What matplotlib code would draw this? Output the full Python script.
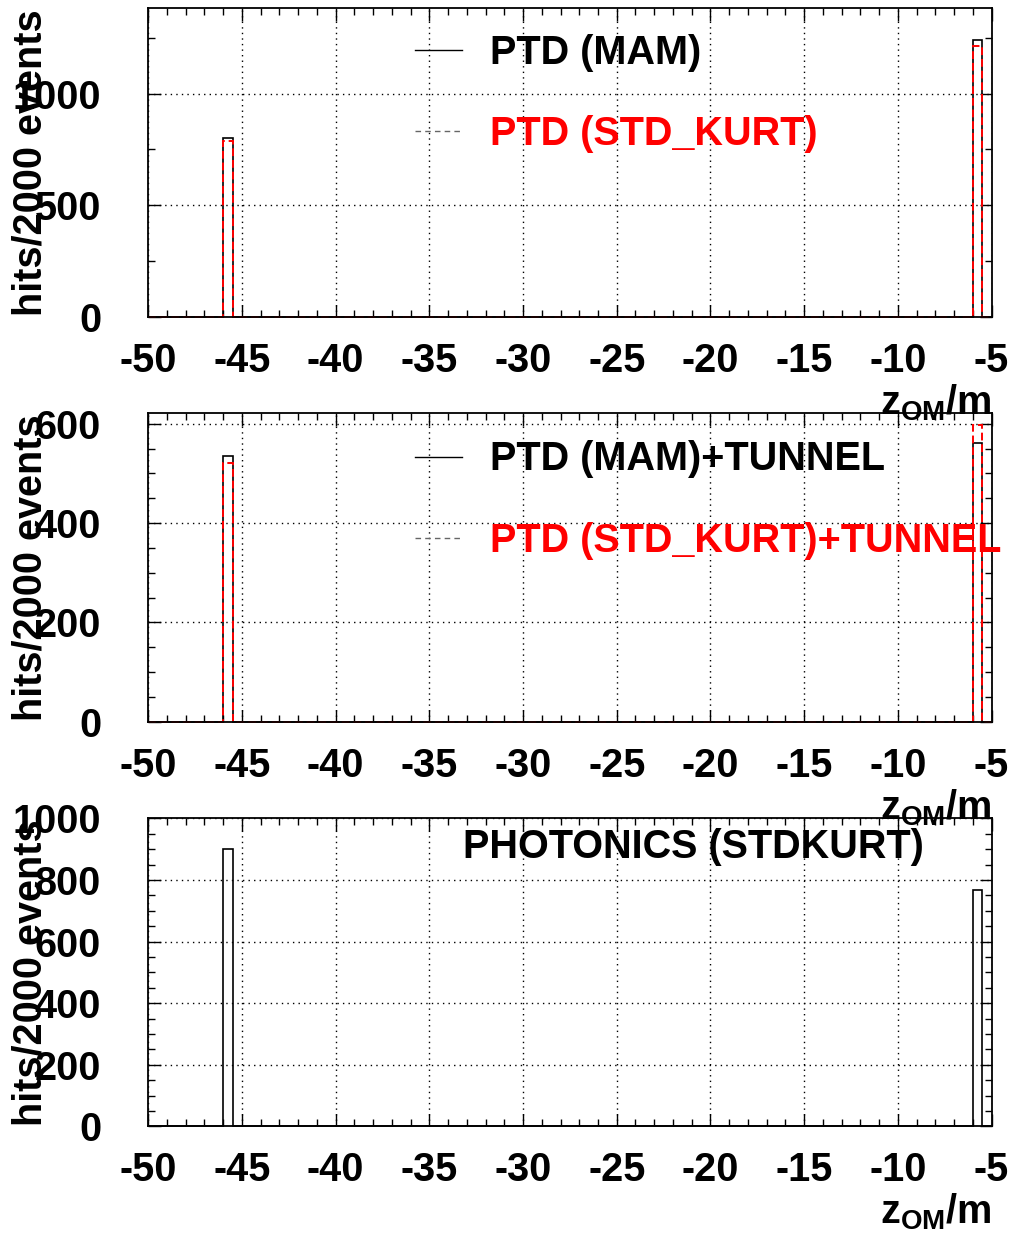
import numpy as np
import matplotlib
matplotlib.use('Agg')
import matplotlib.pyplot as plt
from matplotlib.lines import Line2D
from matplotlib.ticker import MultipleLocator

# binning of the z_OM histograms (0.5 m bins)
bin_lo, bin_hi, bin_w = -50.0, -5.0, 0.5

# bin centres that carry hits, and the hits per bin
z_hit = [-45.75, -5.75]
mam = [800, 1241]
std_kurt = [789, 1215]
mam_tunnel = [536, 561]
std_kurt_tunnel = [522, 598]
photonics = [900, 769]

plt.rcParams['font.family'] = ['Liberation Sans', 'DejaVu Sans']
plt.rcParams['font.weight'] = 'bold'
plt.rcParams['axes.unicode_minus'] = False
plt.rcParams['mathtext.fontset'] = 'custom'
plt.rcParams['mathtext.rm'] = 'Liberation Sans:bold'
plt.rcParams['mathtext.it'] = 'Liberation Sans:bold'
plt.rcParams['mathtext.bf'] = 'Liberation Sans:bold'

FS = 28.5
edges = np.arange(bin_lo, bin_hi + bin_w / 2, bin_w)

fig = plt.figure(figsize=(10.10, 12.36), dpi=100)
left, width = 0.1468, 0.8349
ax1 = fig.add_axes([left, 0.7438, width, 0.2495])
ax2 = fig.add_axes([left, 0.4160, width, 0.2496])
ax3 = fig.add_axes([left, 0.0886, width, 0.2492])

def style(ax, ymax, ymajor, yminor):
    ax.set_facecolor('none')
    ax.set_xlim(bin_lo, bin_hi)
    ax.set_ylim(0, ymax)
    ax.xaxis.set_major_locator(MultipleLocator(5))
    ax.xaxis.set_minor_locator(MultipleLocator(1))
    ax.yaxis.set_major_locator(MultipleLocator(ymajor))
    ax.yaxis.set_minor_locator(MultipleLocator(yminor))
    ax.tick_params(which='both', direction='in', top=True, right=True, width=1)
    ax.tick_params(which='major', length=9)
    ax.tick_params(which='minor', length=5)
    ax.tick_params(axis='x', which='major', labelsize=FS, pad=18)
    ax.tick_params(axis='y', which='major', labelsize=FS, pad=34)
    ax.grid(True, which='major', color='black', linestyle=(0, (1, 3)), linewidth=1)
    for s in ax.spines.values():
        s.set_linewidth(1.3)
    ax.set_ylabel('hits/2000 events', fontsize=FS, fontweight='bold')
    ax.yaxis.set_label_coords(-0.1166, 0.5)
    ax.text(1.0, -0.3155, r'$\mathrm{z_{OM}/m}$', transform=ax.transAxes,
            ha='right', va='baseline', fontsize=FS, clip_on=False, zorder=10)

def draw(ax, values, color, ls, lw):
    ax.hist(z_hit, bins=edges, weights=values, histtype='step',
            color=color, linestyle=ls, linewidth=lw, clip_on=False)

dash = (0, (4, 2))
leg_handles = [Line2D([], [], color='black', lw=1),
               Line2D([], [], color='0.4', lw=1, linestyle=(0, (4, 3)))]

def legend(ax, labels, y):
    leg = ax.legend(leg_handles, labels, loc='upper left', bbox_to_anchor=(0.3163, y),
                    frameon=False, fontsize=FS, handlelength=1.2, handletextpad=0.7,
                    labelspacing=1.1, borderpad=0, borderaxespad=0)
    leg.get_texts()[1].set_color('red')

# top: PTD
draw(ax1, mam, 'black', '-', 1.2)
draw(ax1, std_kurt, 'red', dash, 1.4)
style(ax1, 1383, 500, 250)
legend(ax1, ['PTD (MAM)', 'PTD (STD_KURT)'], 0.918)

# middle: PTD + tunnel
draw(ax2, mam_tunnel, 'black', '-', 1.2)
draw(ax2, std_kurt_tunnel, 'red', dash, 1.4)
style(ax2, 621, 200, 50)
legend(ax2, ['PTD (MAM)+TUNNEL', 'PTD (STD_KURT)+TUNNEL'], 0.912)

# bottom: photonics
draw(ax3, photonics, 'black', '-', 1.2)
style(ax3, 1000, 200, 50)
ax3.text(0.3732, 0.8727, 'PHOTONICS (STDKURT)', transform=ax3.transAxes,
         ha='left', va='baseline', fontsize=FS)

fig.savefig('out.png', dpi=100)
